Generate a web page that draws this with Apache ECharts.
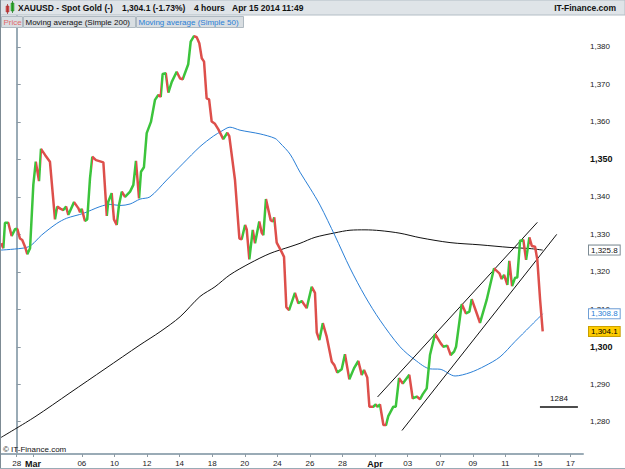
<!DOCTYPE html>
<html>
<head>
<meta charset="utf-8">
<title>XAUUSD - Spot Gold</title>
<script src="https://cdn.jsdelivr.net/npm/echarts@6/dist/echarts.min.js"></script>
<style>
  html, body { margin: 0; padding: 0; background: #fff; }
  #chart { width: 625px; height: 469px; }
</style>
</head>
<body>
<div id="chart"></div>
<script>
// x = trading day index (0 = Feb 28, 1 = Mar 3, ... 34 = Apr 17)
var tickDays   = [0, 1, 4, 6, 8, 10, 12, 14, 16, 18, 20, 22, 24, 26, 28, 30, 32, 34];
var tickLabels = ['28', 'Mar', '06', '10', '12', '14', '18', '20', '24', '26', '28', 'Apr', '03', '07', '09', '11', '15', '17'];
var priceTicks = [1280, 1290, 1300, 1310, 1320, 1330, 1340, 1350, 1360, 1370, 1380];

// price (close line, 4 hours)
var priceDay = [-0.96, -0.82, -0.72, -0.52, -0.31, -0.10, 0.04, 0.20, 0.34, 0.51,
  0.65, 0.82, 1.02, 1.17, 1.37, 1.49, 1.74, 2.04, 2.35, 2.49,
  2.70, 2.86, 3.03, 3.17, 3.52, 3.78, 3.89, 3.99, 4.19, 4.33,
  4.50, 4.64, 4.87, 5.32, 5.53, 5.62, 5.83, 5.97, 6.14, 6.28,
  6.45, 6.65, 6.96, 7.16, 7.32, 7.51, 7.63, 7.81, 7.98, 8.24,
  8.49, 8.69, 8.84, 8.96, 9.15, 9.31, 9.52, 9.82, 10.03, 10.19,
  10.53, 10.68, 10.88, 11.05, 11.21, 11.36, 11.50, 11.66, 11.81, 11.97,
  12.17, 12.38, 12.68, 12.93, 13.05, 13.40, 13.67, 13.81, 14.02, 14.12,
  14.28, 14.49, 14.63, 14.89, 15.04, 15.14, 15.30, 15.59, 15.72, 15.81,
  15.96, 16.23, 16.41, 16.55, 16.72, 17.08, 17.29, 17.50, 17.80, 18.11,
  18.31, 18.42, 18.58, 18.79, 19.03, 19.34, 19.50, 19.68, 19.95, 20.15,
  20.42, 20.71, 20.97, 21.18, 21.32, 21.52, 21.65, 21.89, 22.04, 22.14,
  22.30, 22.51, 22.67, 22.81, 23.12, 23.27, 23.47, 23.70, 24.10, 24.31,
  24.56, 24.76, 24.92, 25.17, 25.37, 25.68, 26.03, 26.19, 26.43, 26.64,
  26.85, 26.97, 27.32, 27.58, 27.79, 27.93, 28.20, 28.44, 28.85, 29.30,
  29.63, 29.77, 29.92, 30.12, 30.24, 30.41, 30.59, 30.73, 30.90, 31.10,
  31.27, 31.47, 31.62, 31.82, 31.96, 32.13, 32.29];
var priceVal = [1327.6, 1326.3, 1333.1, 1333.1, 1329.6, 1331.4, 1331.4, 1328.9, 1328.5, 1326.7,
  1324.7, 1326.3, 1343.2, 1349.4, 1344.2, 1352.8, 1351.2, 1349.4, 1334.0, 1337.4,
  1336.8, 1336.5, 1337.4, 1335.2, 1338.6, 1337.0, 1335.9, 1336.8, 1333.6, 1334.0,
  1345.0, 1350.7, 1349.8, 1349.2, 1334.9, 1338.7, 1341.0, 1334.0, 1332.5, 1337.8,
  1341.4, 1340.0, 1341.4, 1343.2, 1349.6, 1339.6, 1346.7, 1347.9, 1357.0, 1360.0,
  1365.9, 1367.2, 1366.7, 1372.8, 1373.0, 1367.8, 1370.7, 1373.4, 1371.6, 1371.4,
  1375.4, 1381.4, 1382.9, 1382.6, 1381.0, 1377.0, 1376.1, 1366.3, 1366.0, 1360.1,
  1359.5, 1358.0, 1355.4, 1357.1, 1356.2, 1344.5, 1328.9, 1328.7, 1332.5, 1331.3,
  1323.3, 1331.2, 1327.6, 1333.4, 1330.4, 1329.8, 1339.4, 1333.8, 1333.4, 1334.5,
  1327.8, 1325.6, 1324.0, 1310.6, 1309.8, 1314.4, 1311.6, 1312.2, 1310.3, 1316.0,
  1314.4, 1303.8, 1301.8, 1306.3, 1302.7, 1296.0, 1295.1, 1293.1, 1294.0, 1298.0,
  1291.3, 1294.3, 1296.2, 1292.5, 1293.8, 1291.8, 1284.0, 1284.0, 1284.6, 1284.0,
  1284.6, 1279.1, 1279.1, 1281.5, 1284.0, 1284.0, 1291.6, 1290.2, 1292.5, 1286.2,
  1286.7, 1286.0, 1287.3, 1288.9, 1297.8, 1303.4, 1300.9, 1300.0, 1300.3, 1297.8,
  1298.7, 1300.0, 1311.4, 1308.9, 1309.4, 1312.7, 1309.4, 1306.4, 1312.5, 1320.9,
  1319.6, 1318.1, 1319.2, 1316.5, 1322.9, 1316.2, 1318.4, 1318.5, 1328.3, 1328.5,
  1323.2, 1329.2, 1326.9, 1326.7, 1323.2, 1312.5, 1304.1];

// moving average (simple 50)
var ma50Day = [-0.96, 0.51, 0.92, 1.53, 2.46, 3.07, 4.09, 5.11, 5.73, 6.34,
  6.96, 7.57, 8.18, 9.21, 10.23, 11.25, 12.07, 12.60, 13.09, 13.71,
  14.94, 15.86, 16.16, 16.78, 17.39, 18.01, 18.62, 19.54, 20.46, 21.38,
  22.30, 23.53, 24.45, 25.37, 25.99, 26.91, 27.83, 28.75, 29.67, 30.59,
  31.51, 32.29];
var ma50Val = [1325.8, 1326.4, 1327.2, 1329.8, 1332.9, 1334.3, 1335.6, 1337.4, 1338.0, 1337.7,
  1338.1, 1339.4, 1340.0, 1344.5, 1349.0, 1353.4, 1356.2, 1357.6, 1358.6, 1357.8,
  1356.8, 1355.6, 1354.4, 1351.4, 1346.6, 1342.3, 1337.8, 1329.6, 1321.0, 1313.5,
  1307.1, 1300.0, 1296.5, 1294.1, 1294.0, 1292.2, 1293.1, 1294.9, 1297.3, 1301.4,
  1305.4, 1308.8];

// moving average (simple 200)
var ma200Day = [-0.96, 1.12, 3.27, 5.42, 7.57, 8.80, 10.03, 11.25, 12.17, 13.09,
  14.32, 15.55, 16.78, 17.39, 18.31, 19.54, 20.46, 21.38, 22.30, 23.53,
  24.76, 26.60, 28.44, 30.28, 31.51, 32.29];
var ma200Val = [1275.8, 1281.3, 1287.7, 1294.1, 1300.5, 1304.0, 1308.0, 1313.4, 1316.0, 1319.2,
  1322.3, 1324.9, 1326.7, 1327.6, 1329.2, 1330.4, 1331.1, 1331.2, 1331.0, 1330.3,
  1329.1, 1327.8, 1327.2, 1326.5, 1326.2, 1325.8];

// drawn channel and support level
var channelUpDay = [22.15, 31.96], channelUpVal = [1286.6, 1333.2];
var channelLoDay = [23.65, 33.15], channelLoVal = [1277.65, 1330.0];
var levelDay = [32.12, 34.45], levelVal = 1284;

var lastPrice = 1304.1, lastMa50 = 1308.8, lastMa200 = 1325.8;

var UP = '#3cc43c', DOWN = '#dd4f4b', BLUE = '#2a7fd6';
var FONT = 'Liberation Sans, Arial, sans-serif';

function zip(xs, ys) { return xs.map(function (x, i) { return [x, ys[i]]; }); }
function fmt(v, dec) {
  var s = v.toFixed(dec || 0);
  var p = s.split('.');
  var i = p[0].replace(/\B(?=(\d{3})+(?!\d))/g, ',');
  return p.length > 1 ? i + '.' + p[1] : i;
}

// colour pieces: green while rising, red while falling
var pieces = [];
var prevCol = DOWN;
for (var i = 0; i < priceDay.length - 1; i++) {
  var d = priceVal[i + 1] - priceVal[i];
  var col = d > 0 ? UP : (d < 0 ? DOWN : prevCol);
  prevCol = col;
  var last = pieces[pieces.length - 1];
  if (last && last.color === col) {
    last.lt = priceDay[i + 1];
  } else {
    pieces.push({ gte: priceDay[i], lt: priceDay[i + 1], color: col });
  }
}
pieces[pieces.length - 1].lt = 40;
pieces[0].gte = -5;

// value box on the right axis
function boxMark(value, bg, border, color) {
  return {
    silent: true, symbol: 'none', animation: false,
    lineStyle: { color: 'rgba(0,0,0,0)', width: 0, type: 'solid' },
    label: {
      show: true, position: 'end', distance: 6,
      formatter: function (p) { return fmt(p.value, 1); },
      backgroundColor: bg, borderColor: border, borderWidth: 1,
      padding: [1, 2, 0, 2], color: color, fontSize: 8, fontFamily: FONT
    },
    data: [{ yAxis: value }]
  };
}

var chart = echarts.init(document.getElementById('chart'), null, { renderer: 'svg' });

chart.setOption({
  animation: false,
  backgroundColor: '#fff',
  grid: { left: 1, right: 42, top: 16, bottom: 15 },
  xAxis: {
    type: 'value', min: -0.964, max: 34.763,
    axisLine: { show: true, lineStyle: { color: '#9aabb6', width: 2 } },
    axisTick: { show: true, customValues: tickDays, length: 3, lineStyle: { color: '#8c9aa4' } },
    axisLabel: {
      customValues: tickDays, margin: 5, fontSize: 8, color: '#222', fontFamily: FONT,
      formatter: function (v) {
        var k = tickDays.indexOf(Math.round(v));
        var t = tickLabels[k] || '';
        return (t === 'Mar' || t === 'Apr') ? '{b|' + t + '}' : t;
      },
      rich: { b: { fontWeight: 'bold', fontSize: 9, fontFamily: FONT, color: '#111' } }
    },
    splitLine: { show: false }
  },
  yAxis: {
    type: 'value', position: 'right', min: 1271.38, max: 1388.27,
    axisLine: { show: true, lineStyle: { color: '#9aabb6', width: 2 } },
    axisTick: { show: true, customValues: priceTicks, length: 4, lineStyle: { color: '#8c9aa4' } },
    axisLabel: {
      customValues: priceTicks, margin: 7, fontSize: 8, color: '#222', fontFamily: FONT,
      formatter: function (v) {
        var s = fmt(v);
        return (v === 1300 || v === 1350) ? '{b|' + s + '}' : s;
      },
      rich: { b: { fontWeight: 'bold', fontSize: 9, fontFamily: FONT, color: '#111' } }
    },
    splitLine: { show: false }
  },
  visualMap: {
    show: false, type: 'piecewise', seriesIndex: 0, dimension: 0,
    pieces: pieces, outOfRange: { color: DOWN }
  },
  series: [
    {
      name: 'Price', type: 'line', data: zip(priceDay, priceVal), showSymbol: false,
      lineStyle: { width: 2.5 }, z: 5,
      markLine: boxMark(lastPrice, '#ffcc00', '#c89f00', '#000')
    },
    {
      name: 'Moving average (Simple 200)', type: 'line', data: zip(ma200Day, ma200Val),
      showSymbol: false, smooth: 0.3, lineStyle: { width: 1, color: '#111' }, z: 3,
      markLine: boxMark(lastMa200, '#fff', '#7d8b94', '#111')
    },
    {
      name: 'Moving average (Simple 50)', type: 'line', data: zip(ma50Day, ma50Val),
      showSymbol: false, smooth: 0.3, lineStyle: { width: 1, color: BLUE }, z: 3,
      markLine: boxMark(lastMa50, '#fff', '#6f9fd6', BLUE)
    },
    {
      name: 'channel top', type: 'line', data: zip(channelUpDay, channelUpVal),
      showSymbol: false, lineStyle: { width: 1, color: '#111' }, z: 4
    },
    {
      name: 'channel bottom', type: 'line', data: zip(channelLoDay, channelLoVal),
      showSymbol: false, lineStyle: { width: 1, color: '#111' }, z: 4,
      markLine: {
        silent: true, symbol: 'none', animation: false,
        lineStyle: { color: '#111', width: 1.5, type: 'solid' },
        label: { show: true, position: 'middle', formatter: String(levelVal), fontSize: 8, color: '#111', fontFamily: FONT, distance: 4 },
        data: [[{ coord: [levelDay[0], levelVal] }, { coord: [levelDay[1], levelVal] }]]
      }
    }
  ],
  graphic: [
    // header bar
    { type: 'rect', shape: { x: 0, y: 0, width: 625, height: 15 }, style: { fill: '#dfe4e8', stroke: '#b3bec6', lineWidth: 1 }, z: 100 },
    { type: 'rect', shape: { x: 6, y: 6, width: 3, height: 6 }, style: { fill: '#e05050', stroke: '#a03030', lineWidth: 0.5 }, z: 101 },
    { type: 'line', shape: { x1: 7.5, y1: 4, x2: 7.5, y2: 14 }, style: { stroke: '#a03030', lineWidth: 0.8 }, z: 101 },
    { type: 'rect', shape: { x: 11, y: 3, width: 3, height: 8 }, style: { fill: '#40c040', stroke: '#208020', lineWidth: 0.5 }, z: 101 },
    { type: 'line', shape: { x1: 12.5, y1: 1, x2: 12.5, y2: 13 }, style: { stroke: '#208020', lineWidth: 0.8 }, z: 101 },
    { type: 'text', x: 18, y: 8, style: { text: 'XAUUSD - Spot Gold (-)', font: 'bold 8.5px ' + FONT, fill: '#111', verticalAlign: 'middle' }, z: 101 },
    { type: 'text', x: 122, y: 8, style: { text: '1,304.1 (-1.73%)', font: 'bold 8.5px ' + FONT, fill: '#111', verticalAlign: 'middle' }, z: 101 },
    { type: 'text', x: 194, y: 8, style: { text: '4 hours', font: 'bold 8.5px ' + FONT, fill: '#111', verticalAlign: 'middle' }, z: 101 },
    { type: 'text', x: 232, y: 8, style: { text: 'Apr 15 2014 11:49', font: 'bold 8.5px ' + FONT, fill: '#111', verticalAlign: 'middle' }, z: 101 },
    { type: 'text', x: 616, y: 8, style: { text: 'IT-Finance.com', font: 'bold 8.5px ' + FONT, fill: '#111', align: 'right', verticalAlign: 'middle' }, z: 101 },
    // legend tabs
    { type: 'rect', shape: { x: 1.5, y: 16.5, width: 21, height: 11 }, style: { fill: '#d9dee2', stroke: '#aeb9c1', lineWidth: 1 }, z: 100 },
    { type: 'text', x: 3.5, y: 22.5, style: { text: 'Price', font: '8px ' + FONT, fill: '#e06a6a', verticalAlign: 'middle' }, z: 101 },
    { type: 'rect', shape: { x: 23.5, y: 16.5, width: 112, height: 11 }, style: { fill: '#d9dee2', stroke: '#aeb9c1', lineWidth: 1 }, z: 100 },
    { type: 'text', x: 25.5, y: 22.5, style: { text: 'Moving average (Simple 200)', font: '8px ' + FONT, fill: '#111', verticalAlign: 'middle' }, z: 101 },
    { type: 'rect', shape: { x: 136.5, y: 16.5, width: 107, height: 11 }, style: { fill: '#d9dee2', stroke: '#aeb9c1', lineWidth: 1 }, z: 100 },
    { type: 'text', x: 138.5, y: 22.5, style: { text: 'Moving average (Simple 50)', font: '8px ' + FONT, fill: BLUE, verticalAlign: 'middle' }, z: 101 },
    // frame
    { type: 'line', shape: { x1: 0.5, y1: 0, x2: 0.5, y2: 469 }, style: { stroke: '#7d8b94', lineWidth: 1 }, z: 100 },
    { type: 'line', shape: { x1: 0, y1: 468.5, x2: 625, y2: 468.5 }, style: { stroke: '#9aabb6', lineWidth: 1 }, z: 100 },
    // watermark
    { type: 'text', x: 3, y: 449, style: { text: '\u00a9 IT-Finance.com', font: '8px ' + FONT, fill: '#111', verticalAlign: 'middle' }, z: 101 }
  ]
});
</script>
</body>
</html>
